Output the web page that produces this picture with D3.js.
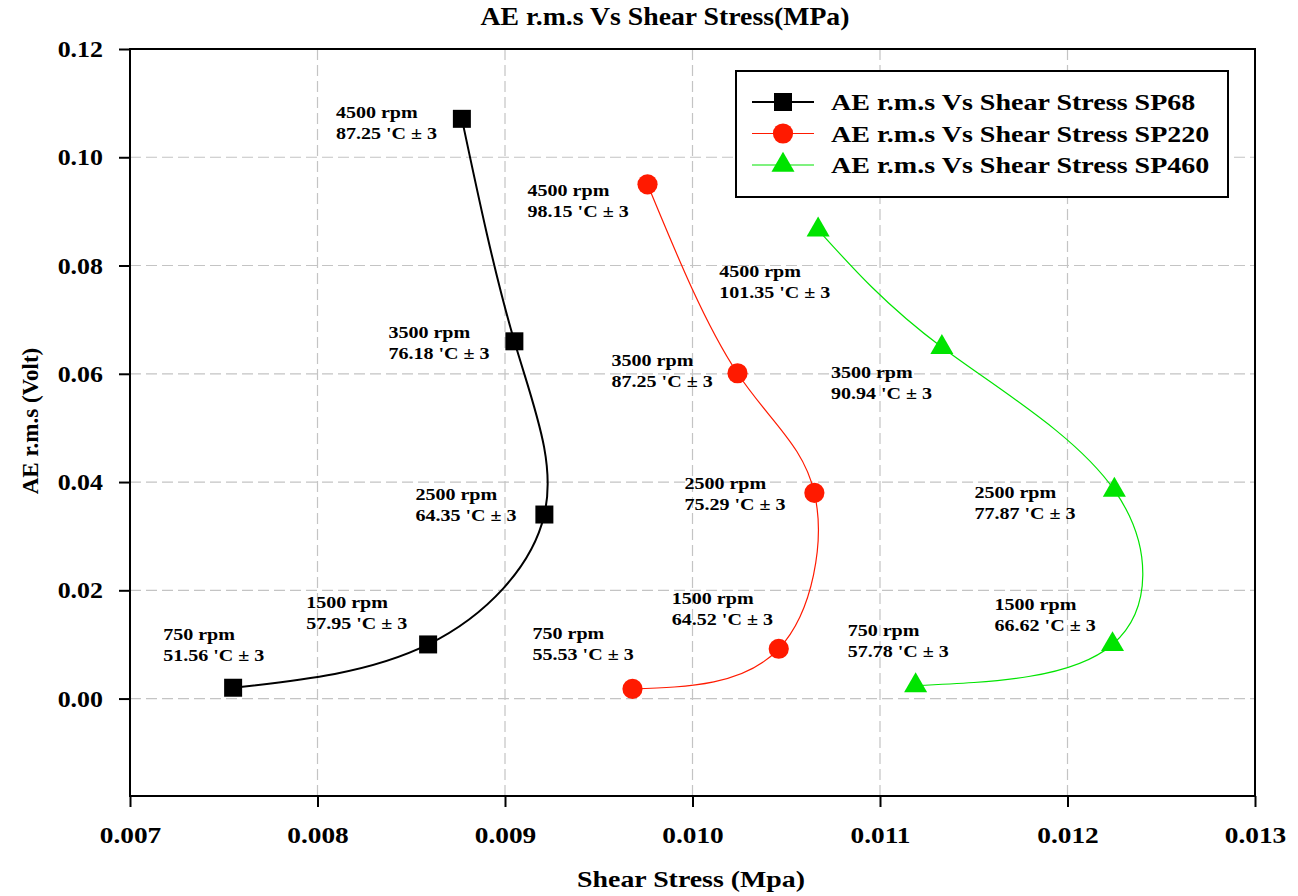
<!DOCTYPE html>
<meta charset="utf-8">
<script src="https://d3js.org/d3.v7.min.js"></script>
<style>
  body { margin: 0; background: #fff; }
  text { font-family: "Liberation Serif", "Times New Roman", serif; font-weight: bold; fill: #000; }
</style>
<div id="my_dataviz"></div>
<script>
// values
var rpmLabels = ["750 rpm", "1500 rpm", "2500 rpm", "3500 rpm", "4500 rpm"];

var sp68Stress  = [0.00755, 0.00859, 0.00921, 0.00905, 0.00877];
var sp68Rms     = [0.0020, 0.0100, 0.0340, 0.0660, 0.1071];
var sp68Temp    = ["51.56", "57.95", "64.35", "76.18", "87.25"];

var sp220Stress = [0.00968, 0.01046, 0.01065, 0.01024, 0.00976];
var sp220Rms    = [0.0018, 0.0092, 0.0380, 0.0601, 0.0950];
var sp220Temp   = ["55.53", "64.52", "75.29", "87.25", "98.15"];

var sp460Stress = [0.01119, 0.01224, 0.01225, 0.01133, 0.01067];
var sp460Rms    = [0.0024, 0.0100, 0.0385, 0.0649, 0.0866];
var sp460Temp   = ["57.78", "66.62", "77.87", "90.94", "101.35"];

var xTicks = [0.007, 0.008, 0.009, 0.010, 0.011, 0.012, 0.013];
var yTicks = [0.00, 0.02, 0.04, 0.06, 0.08, 0.10, 0.12];

// label placement relative to each marker (pixels)
var sp68Offsets  = [[-70, -48], [-122, -36], [-129, -15], [-126, -3], [-126, -1]];
var sp220Offsets = [[-100, -50], [-107, -45], [-130, -4], [-126, -7], [-120, 12]];
var sp460Offsets = [[-68, -50], [-118, -34], [-140, 8], [-111, 31], [-99, 47]];

var series = [
  {name: "AE r.m.s Vs Shear Stress SP68",  x: sp68Stress,  y: sp68Rms,  temp: sp68Temp,  off: sp68Offsets,  color: "#000000", width: 2,   symbol: d3.symbolSquare,   size: 324},
  {name: "AE r.m.s Vs Shear Stress SP220", x: sp220Stress, y: sp220Rms, temp: sp220Temp, off: sp220Offsets, color: "#ff1a00", width: 1.2, symbol: d3.symbolCircle,   size: 320},
  {name: "AE r.m.s Vs Shear Stress SP460", x: sp460Stress, y: sp460Rms, temp: sp460Temp, off: sp460Offsets, color: "#00e400", width: 1.2, symbol: d3.symbolTriangle, size: 230}
];

var W = 1298, H = 896;
var pLeft = 130, pRight = 1255, pTop = 49, pBottom = 796;

var svg = d3.select("#my_dataviz").append("svg")
    .attr("width", W).attr("height", H);

var x = d3.scaleLinear().domain([0.007, 0.013]).range([pLeft, pRight]);
var y = d3.scaleLinear().domain([-0.018, 0.12]).range([pBottom, pTop]);

// the original picture's text is a bit wide, so stretch it horizontally
function wideText(parent, tx, ty, sx, size, anchor) {
  return parent.append("text")
    .attr("transform", "translate(" + tx + "," + ty + ") scale(" + sx + ",1)")
    .attr("text-anchor", anchor || "start")
    .style("font-size", size + "px");
}

// grid
svg.append("g").selectAll("line")
  .data(xTicks.slice(1, -1)).enter().append("line")
    .attr("x1", d => x(d)).attr("x2", d => x(d))
    .attr("y1", pTop).attr("y2", pBottom)
    .attr("stroke", "#c4c4c4").attr("stroke-width", 1.2).attr("stroke-dasharray", "11,5");
svg.append("g").selectAll("line")
  .data(yTicks.slice(0, -1)).enter().append("line")
    .attr("x1", pLeft).attr("x2", pRight)
    .attr("y1", d => y(d)).attr("y2", d => y(d))
    .attr("stroke", "#c4c4c4").attr("stroke-width", 1.2).attr("stroke-dasharray", "11,5");

// frame
svg.append("rect")
  .attr("x", pLeft).attr("y", pTop)
  .attr("width", pRight - pLeft).attr("height", pBottom - pTop)
  .attr("fill", "none").attr("stroke", "#000").attr("stroke-width", 2);

// axes
var xAxis = svg.append("g")
  .attr("transform", "translate(0," + pBottom + ")")
  .call(d3.axisBottom(x).tickValues(xTicks).tickFormat(d3.format(".3f")).tickSize(11).tickPadding(19));
var yAxis = svg.append("g")
  .attr("transform", "translate(" + pLeft + ",0)")
  .call(d3.axisLeft(y).tickValues(yTicks).tickFormat(d3.format(".2f")).tickSize(11).tickPadding(14));
[xAxis, yAxis].forEach(function(a) {
  a.select(".domain").remove();
  a.selectAll(".tick line").attr("stroke", "#000").attr("stroke-width", 2);
  a.selectAll(".tick text")
    .style("font-family", '"Liberation Serif", serif')
    .style("font-weight", "bold")
    .style("font-size", "24px")
    .attr("fill", "#000");
});
xAxis.selectAll(".tick text").attr("transform", "scale(1.14,1)");
yAxis.selectAll(".tick text").attr("x", -27 / 1.08).attr("transform", "scale(1.08,1)");

// curves
var line = d3.line()
  .x(d => x(d[0]))
  .y(d => y(d[1]))
  .curve(d3.curveNatural);

series.forEach(function(s) {
  var pts = s.x.map((v, i) => [v, s.y[i]]);
  svg.append("path")
    .datum(pts)
    .attr("fill", "none")
    .attr("stroke", s.color)
    .attr("stroke-width", s.width)
    .attr("d", line);

  svg.append("g").selectAll("path")
    .data(pts).enter().append("path")
      .attr("transform", d => "translate(" + x(d[0]) + "," + y(d[1]) + ")")
      .attr("d", d3.symbol().type(s.symbol).size(s.size))
      .attr("fill", s.color);

  var g = svg.append("g");
  pts.forEach(function(d, i) {
    var t = wideText(g, x(d[0]) + s.off[i][0], y(d[1]) + s.off[i][1], 1.18, 17);
    t.append("tspan").attr("x", 0).text(rpmLabels[i]);
    t.append("tspan").attr("x", 0).attr("dy", 21).text(s.temp[i] + " 'C \u00b1 3");
  });
});

// legend
var lg = svg.append("g");
lg.append("rect")
  .attr("x", 736).attr("y", 71).attr("width", 492).attr("height", 126)
  .attr("fill", "#fff").attr("stroke", "#000").attr("stroke-width", 2);
series.forEach(function(s, i) {
  var cy = 102 + i * 31.5;
  lg.append("line")
    .attr("x1", 752).attr("x2", 814).attr("y1", cy).attr("y2", cy)
    .attr("stroke", s.color).attr("stroke-width", s.width);
  lg.append("path")
    .attr("transform", "translate(783," + cy + ")")
    .attr("d", d3.symbol().type(s.symbol).size(s.size))
    .attr("fill", s.color);
  wideText(lg, 831, cy + 8, 1.22, 23).text(s.name);
});

// titles
wideText(svg, 665, 25, 1.11, 25, "middle").text("AE r.m.s Vs Shear Stress(MPa)");
wideText(svg, 691, 887, 1.16, 24, "middle").text("Shear Stress (Mpa)");

svg.append("text")
  .attr("transform", "translate(38,421) rotate(-90)")
  .attr("text-anchor", "middle")
  .style("font-size", "23px")
  .text("AE r.m.s (Volt)");
</script>
